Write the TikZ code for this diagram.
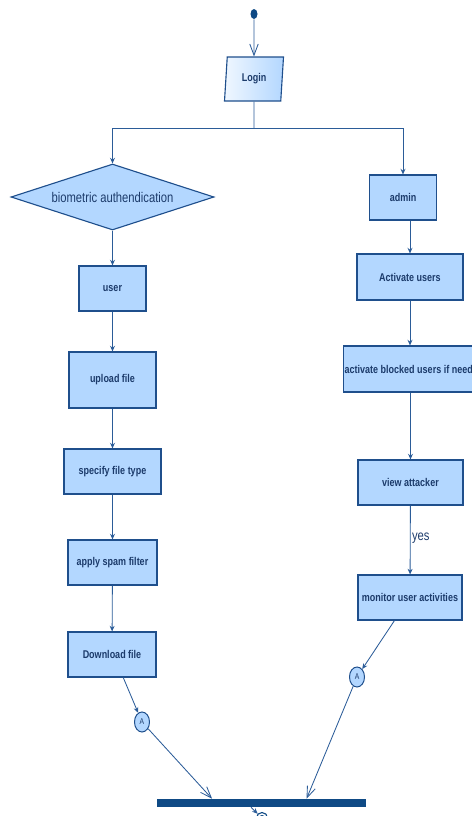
\documentclass[tikz,border=0pt]{standalone}
\usepackage{fontspec}
\usepackage{tikz}
\usetikzlibrary{shapes.geometric,arrows.meta,calc}
\newfontfamily\diafont{Liberation Sans}[FakeStretch=0.8]
\definecolor{boxfill}{HTML}{B3D7FF}
\definecolor{boxline}{HTML}{1F4F8C}
\definecolor{flowline}{HTML}{2B5C98}
\definecolor{txtblue}{HTML}{1C3B6B}
\definecolor{barblue}{HTML}{0F4A85}
\newcommand\pxl{0.025cm}
\tikzset{
  sz/.style 2 args={minimum width=#1*\pxl, minimum height=#2*\pxl},
  actbase/.style={draw=boxline, line width=0.8pt, text=txtblue, inner sep=1pt,
    font=\diafont\bfseries\fontsize{8}{9}\selectfont},
  act/.style={actbase, fill=boxfill},
  flow/.style={draw=flowline, line width=0.6pt, -{Stealth[length=4pt,width=3.5pt]}},
  openflow/.style={draw=flowline, line width=0.6pt, -{Straight Barb[length=8pt,width=6pt]}},
  conn/.style={ellipse, draw=boxline, fill=boxfill, line width=0.7pt, sz={15}{20}, inner sep=0pt,
    text=txtblue, font=\diafont\fontsize{6}{7}\selectfont},
}

\begin{document}
\begin{tikzpicture}[x=0.025cm,y=-0.025cm]
 \clip (0,0) rectangle (472,816);
 \node[ellipse, fill=barblue, inner sep=0pt, sz={7}{10}] (start) at (254,14) {};
 \node[actbase, trapezium, trapezium left angle=84, trapezium right angle=96,
   trapezium stretches=true, sz={59}{44}, left color=white!80!boxfill, right color=boxfill] (login) at (254,79) {Login};
 \coordinate (fork) at (254,128);

 \node[act, diamond, aspect=3, inner sep=0pt, sz={203}{66},
   font=\diafont\fontsize{10}{12}\selectfont] (bio) at (112.5,197) {biometric authendication};
 \node[act, sz={67}{45}] (user) at (112.5,288.5) {user};
 \node[act, sz={87}{56}] (upload) at (112.5,380) {upload file};
 \node[act, sz={97}{45}] (ftype) at (112.5,471.5) {specify file type};
 \node[act, sz={89}{45}] (spam) at (112.5,562.5) {apply spam filter};
 \node[act, sz={88}{45}] (download) at (112,654.5) {Download file};
 \node[conn] (connL) at (142,722) {A};

 \node[act, sz={67}{45}] (admin) at (403,197.5) {admin};
 \node[act, sz={106}{46}] (activate) at (410,277) {Activate users};
 \node[act, sz={134}{46}] (blocked) at (414,369) {activate blocked users if needed};
 \node[act, sz={105}{45}] (attacker) at (410.5,482.5) {view attacker};
 \node[act, sz={104}{45}] (monitor) at (410,597.5) {monitor user activities};
 \node[conn] (connR) at (357,677) {A};

 \node[rectangle, fill=barblue, inner sep=0pt, sz={209}{8}] (join) at (261.5,803) {};
 \node[circle, draw=barblue, line width=0.8pt, fill=white, inner sep=0pt, sz={11}{11}] (stop) at (262,818) {};
 \fill[barblue] (stop) circle (3);

 \draw[openflow] (start) -- (login);
 \draw[draw=flowline, line width=0.6pt] (login) -- (fork);
 \draw[flow] (fork) -| (bio.north);
 \draw[flow] (fork) -| (admin.north);
 \draw[flow] (bio) -- (user);
 \draw[flow] (user) -- (upload);
 \draw[flow] (upload) -- (ftype);
 \draw[flow] (ftype) -- (spam);
 \draw[flow] (spam) -- (download);
 \draw[flow] (download.-64) -- (connL);
 \draw[openflow] (connL) -- ($(join.north west)!0.264!(join.north east)$);

 \draw[flow] (admin.south -| activate.north) -- (activate.north);
 \draw[flow] (activate.south) -- (activate.south |- blocked.north);
 \draw[flow] (blocked.south -| attacker.north) -- (attacker.north);
 \draw[flow] (attacker) -- node[right, pos=0.47, inner sep=1pt, text=txtblue,
   font=\diafont\fontsize{10}{12}\selectfont] {yes} (monitor);
 \draw[flow] (monitor.-124) -- (connR);
 \draw[openflow] (connR) -- ($(join.north west)!0.715!(join.north east)$);
 \draw[flow] ($(join.south west)!0.45!(join.south east)$) -- (stop);
\end{tikzpicture}
\end{document}
